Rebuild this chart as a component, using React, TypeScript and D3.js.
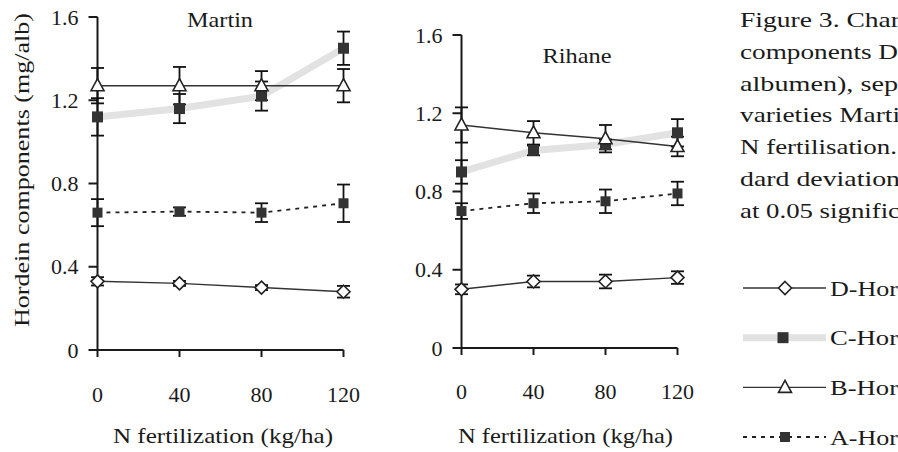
import React from 'react';
import * as d3 from 'd3';

// N rates on the x axis
const nLevels = [0, 40, 80, 120];
const yTicks = [0, 0.4, 0.8, 1.2, 1.6];

// Martin
const martinD = [0.33, 0.32, 0.3, 0.28];
const martinDErr = [0.02, 0.012, 0.012, 0.028];
const martinC = [1.12, 1.16, 1.22, 1.45];
const martinCErr = [0.09, 0.07, 0.07, 0.08];
const martinB = [1.27, 1.27, 1.27, 1.27];
const martinBErr = [0.085, 0.09, 0.07, 0.08];
const martinA = [0.66, 0.665, 0.66, 0.705];
const martinAErr = [0.065, 0.02, 0.045, 0.09];

// Rihane
const rihaneD = [0.3, 0.34, 0.34, 0.36];
const rihaneDErr = [0.025, 0.03, 0.035, 0.032];
const rihaneC = [0.9, 1.01, 1.04, 1.1];
const rihaneCErr = [0.06, 0.025, 0.025, 0.07];
const rihaneB = [1.14, 1.1, 1.07, 1.03];
const rihaneBErr = [0.09, 0.06, 0.07, 0.05];
const rihaneA = [0.7, 0.74, 0.75, 0.79];
const rihaneAErr = [0.04, 0.05, 0.06, 0.06];

const legendKeys = ['D', 'C', 'B', 'A'];
const legendLabels = ['D-Hor', 'C-Hor', 'B-Hor', 'A-Hor'];

const captionLines = [
  'Figure 3. Char',
  'components D',
  'albumen), sep',
  'varieties Marti',
  'N fertilisation.',
  'dard deviation',
  'at 0.05 signific',
];
const captionWidths = [160, 158, 158, 160, 157, 160, 160];

const FONT = '"Liberation Serif", "Times New Roman", serif';
const INK = '#1a1a1a';

const lineStyle: Record<string, any> = {
  C: { stroke: '#e2e2e2', width: 7, dash: null },
  D: { stroke: '#333', width: 1.4, dash: null },
  B: { stroke: '#333', width: 1.4, dash: null },
  A: { stroke: '#222', width: 1.8, dash: '4 5' },
};

type Series = { key: string; values: number[]; errors: number[] };

const Marker = ({ kind, cx, cy }: { kind: string; cx: number; cy: number }) => {
  if (kind === 'D') {
    const p = d3.path();
    p.moveTo(cx, cy - 6.5);
    p.lineTo(cx + 6.5, cy);
    p.lineTo(cx, cy + 6.5);
    p.lineTo(cx - 6.5, cy);
    p.closePath();
    return <path d={p.toString()} fill="#fff" stroke="#222" strokeWidth={1.6} />;
  }
  if (kind === 'B') {
    const p = d3.path();
    p.moveTo(cx, cy - 7);
    p.lineTo(cx + 6.5, cy + 5);
    p.lineTo(cx - 6.5, cy + 5);
    p.closePath();
    return <path d={p.toString()} fill="#fff" stroke="#222" strokeWidth={1.6} />;
  }
  const s = kind === 'C' ? 11 : 10;
  return <rect x={cx - s / 2} y={cy - s / 2} width={s} height={s} fill="#333" />;
};

const Panel = ({
  title, titleX, titleY, titleW, left, right, top, bottom, series, tickLabelY,
}: {
  title: string; titleX: number; titleY: number; titleW: number; left: number; right: number;
  top: number; bottom: number; series: Series[]; tickLabelY: number;
}) => {
  const x = d3.scaleLinear().domain([0, 120]).range([left, right]);
  const y = d3.scaleLinear().domain([0, 1.6]).range([bottom, top]);
  const order = ['C', 'D', 'B', 'A'];
  const sorted = order.map(k => series.find(s => s.key === k)!);
  const line = d3.line<number>().x((_, i) => x(nLevels[i])).y(d => y(d));

  return (
    <g>
      {/* axes */}
      <line x1={x(0)} x2={x(0)} y1={y(1.6)} y2={y(0)} stroke={INK} strokeWidth={2} />
      <line x1={x(0) - 8} x2={x(120)} y1={y(0)} y2={y(0)} stroke={INK} strokeWidth={2} />
      {yTicks.map(t => (
        <g key={t}>
          <line x1={x(0) - 9} x2={x(0)} y1={y(t)} y2={y(t)} stroke={INK} strokeWidth={2} />
          <text x={x(0) - 19} y={y(t) + 7.5} textAnchor="end" fontSize={22} fontFamily={FONT} fill={INK}>
            {d3.format('.1~f')(t)}
          </text>
        </g>
      ))}
      {nLevels.map(n => (
        <g key={n}>
          <line x1={x(n)} x2={x(n)} y1={y(0)} y2={y(0) + 7} stroke={INK} strokeWidth={2} />
          <text x={x(n)} y={tickLabelY} textAnchor="middle" fontSize={22} fontFamily={FONT} fill={INK}>
            {n}
          </text>
        </g>
      ))}
      <text x={titleX - titleW / 2} y={titleY} fontSize={21} fontFamily={FONT} fill={INK}
        textLength={titleW} lengthAdjust="spacingAndGlyphs">
        {title}
      </text>

      {/* lines */}
      {sorted.map(s => (
        <path key={s.key} d={line(s.values) || ''} fill="none"
          stroke={lineStyle[s.key].stroke} strokeWidth={lineStyle[s.key].width}
          strokeDasharray={lineStyle[s.key].dash || undefined} />
      ))}

      {/* error bars */}
      {sorted.map(s => s.values.map((v, i) => {
        const cx = x(nLevels[i]);
        const hi = y(v + s.errors[i]);
        const lo = y(v - s.errors[i]);
        return (
          <g key={s.key + i} stroke="#111" strokeWidth={1.8}>
            <line x1={cx} x2={cx} y1={hi} y2={lo} />
            <line x1={cx - 6.5} x2={cx + 6.5} y1={hi} y2={hi} />
            <line x1={cx - 6.5} x2={cx + 6.5} y1={lo} y2={lo} />
          </g>
        );
      }))}

      {/* markers */}
      {sorted.map(s => s.values.map((v, i) => (
        <Marker key={s.key + 'm' + i} kind={s.key} cx={x(nLevels[i])} cy={y(v)} />
      )))}
    </g>
  );
};

const App = () => {
  const martin: Series[] = [
    { key: 'D', values: martinD, errors: martinDErr },
    { key: 'C', values: martinC, errors: martinCErr },
    { key: 'B', values: martinB, errors: martinBErr },
    { key: 'A', values: martinA, errors: martinAErr },
  ];
  const rihane: Series[] = [
    { key: 'D', values: rihaneD, errors: rihaneDErr },
    { key: 'C', values: rihaneC, errors: rihaneCErr },
    { key: 'B', values: rihaneB, errors: rihaneBErr },
    { key: 'A', values: rihaneA, errors: rihaneAErr },
  ];
  const legendY = d3.scalePoint<string>().domain(legendKeys).range([288, 437]);

  return (
    <svg width={898} height={452} style={{ position: 'absolute', left: 0, top: 0, background: '#fff' }}>
      <rect width={898} height={452} fill="#fff" />
      <Panel title="Martin" titleX={220} titleY={27} titleW={66} left={97.5} right={343.5} top={17}
        bottom={350} series={martin} tickLabelY={402} />
      <Panel title="Rihane" titleX={577} titleY={63} titleW={69} left={461.5} right={677.5} top={35}
        bottom={348} series={rihane} tickLabelY={399} />

      <text transform="translate(29,327) rotate(-90)" fontSize={22} fontFamily={FONT} fill={INK}
        textLength={314} lengthAdjust="spacingAndGlyphs">
        Hordein components (mg/alb)
      </text>
      <text x={113} y={443} fontSize={22} fontFamily={FONT} fill={INK} textLength={220}
        lengthAdjust="spacingAndGlyphs">
        N fertilization (kg/ha)
      </text>
      <text x={458} y={443} fontSize={22} fontFamily={FONT} fill={INK} textLength={215}
        lengthAdjust="spacingAndGlyphs">
        N fertilization (kg/ha)
      </text>

      {captionLines.map((t, i) => (
        <text key={i} x={740} y={27 + i * 31.8} fontSize={22} fontFamily={FONT} fill={INK}
          textLength={captionWidths[i]} lengthAdjust="spacingAndGlyphs">
          {t}
        </text>
      ))}

      {legendKeys.map((k, i) => {
        const ly = legendY(k)!;
        const st = lineStyle[k];
        return (
          <g key={k}>
            <line x1={743} x2={826} y1={ly} y2={ly} stroke={st.stroke}
              strokeWidth={st.width} strokeDasharray={st.dash || undefined} />
            <Marker kind={k} cx={k === 'C' ? 783 : 785} cy={ly} />
            <text x={830} y={ly + 7.5} fontSize={22} fontFamily={FONT} fill={INK}
              textLength={68} lengthAdjust="spacingAndGlyphs">
              {legendLabels[i]}
            </text>
          </g>
        );
      })}
    </svg>
  );
};

export default App;
